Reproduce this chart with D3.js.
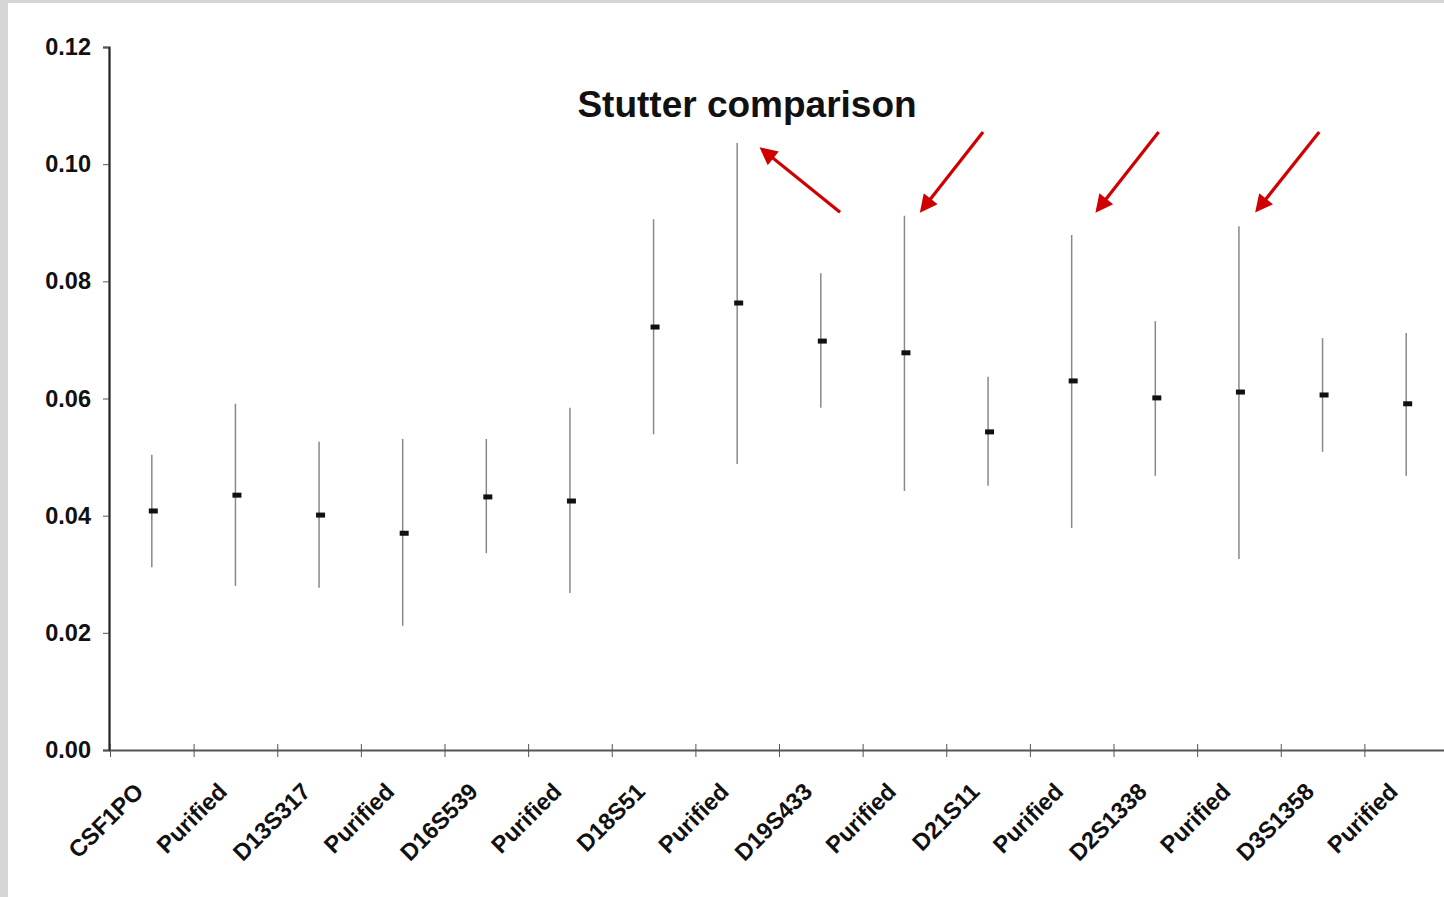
<!DOCTYPE html>
<html><head><meta charset="utf-8">
<script src="https://cdn.jsdelivr.net/npm/d3@7"></script>
<style>
html,body{margin:0;padding:0;background:#d6d6d6;}
svg{display:block;}
text{font-family:"Liberation Sans",Arial,sans-serif;}
</style></head>
<body>
<script>
const categories = ["CSF1PO","Purified","D13S317","Purified","D16S539","Purified","D18S51","Purified","D19S433","Purified","D21S11","Purified","D2S1338","Purified","D3S1358","Purified"];
const means = [0.0408,0.0435,0.0401,0.0370,0.0432,0.0425,0.0722,0.0763,0.0698,0.0678,0.0543,0.0630,0.0601,0.0611,0.0606,0.0591];
const highs = [0.0504,0.0591,0.0526,0.0531,0.0531,0.0584,0.0906,0.1036,0.0814,0.0912,0.0637,0.0879,0.0732,0.0894,0.0703,0.0712];
const lows  = [0.0312,0.0280,0.0277,0.0212,0.0336,0.0268,0.0539,0.0488,0.0584,0.0442,0.0451,0.0379,0.0468,0.0326,0.0509,0.0468];
const yTicks = [0,0.02,0.04,0.06,0.08,0.10,0.12];
const title = "Stutter comparison";
// annotation arrows in data space (category position, value)
const arrows = [
  {x1:8.73, y1:0.0918, x2:7.80, y2:0.1025},
  {x1:10.44, y1:0.1055, x2:9.71, y2:0.0922},
  {x1:12.54, y1:0.1055, x2:11.81, y2:0.0922},
  {x1:14.46, y1:0.1055, x2:13.72, y2:0.0922}
];

const W = 1444, H = 897;
const svg = d3.select("body").append("svg").attr("width", W).attr("height", H);
svg.append("rect").attr("x", 8).attr("y", 3).attr("width", W - 8).attr("height", H - 3).attr("fill", "#fff");

const x = d3.scaleBand().domain(d3.range(categories.length)).range([110, 1448]).padding(0);
const y = d3.scaleLinear().domain([0, 0.12]).range([750, 47]);
const xi = d3.scaleLinear().domain([0, categories.length]).range([110, 1448]);

// Y axis
const yAxis = d3.axisLeft(y).tickValues(yTicks).tickFormat(d3.format(".2f")).tickSize(6).tickPadding(12);
const gy = svg.append("g").attr("transform", "translate(109,0)").call(yAxis);
gy.select(".domain").attr("stroke", "#222").attr("stroke-width", 2.2);
gy.selectAll(".tick line").attr("stroke", "#555").attr("stroke-width", 1);
gy.selectAll(".tick text").attr("font-size", 23.5).attr("font-weight", "bold").attr("fill", "#111")
  .attr("font-family", "'Liberation Sans',Arial,sans-serif");

// X axis
const xAxis = d3.axisBottom(xi).tickValues(d3.range(categories.length + 1)).tickSize(0).tickFormat("");
const gx = svg.append("g").attr("transform", "translate(0,750)").call(xAxis);
gx.select(".domain").attr("stroke", "#555").attr("stroke-width", 2.2);
gx.selectAll(".tick").append("line").attr("y1", -6).attr("y2", 7).attr("stroke", "#555").attr("stroke-width", 1);

// x labels
svg.append("g").selectAll("text").data(categories).join("text")
  .attr("transform", (d, i) => `translate(${x(i) + x.bandwidth() / 2 - 7},${793}) rotate(-45)`)
  .attr("text-anchor", "end")
  .attr("font-size", 23.5).attr("font-weight", "bold").attr("fill", "#111")
  .text(d => d);

// error bars
const g = svg.append("g");
g.selectAll("line.err").data(categories).join("line").attr("class", "err")
  .attr("x1", (d, i) => x(i) + x.bandwidth() / 2)
  .attr("x2", (d, i) => x(i) + x.bandwidth() / 2)
  .attr("y1", (d, i) => y(highs[i]))
  .attr("y2", (d, i) => y(lows[i]))
  .attr("stroke", "#888").attr("stroke-width", 1.5);
g.selectAll("rect.mean").data(categories).join("rect").attr("class", "mean")
  .attr("x", (d, i) => x(i) + x.bandwidth() / 2 - 3)
  .attr("y", (d, i) => y(means[i]) - 2.5)
  .attr("width", 9).attr("height", 5).attr("fill", "#111");

// title
svg.append("text").attr("x", 747).attr("y", 117).attr("text-anchor", "middle")
  .attr("font-size", 37).attr("font-weight", "bold").attr("fill", "#111").text(title);

// arrows
const defs = svg.append("defs");
defs.append("marker").attr("id", "ah").attr("viewBox", "0 0 10 10").attr("refX", 8).attr("refY", 5)
  .attr("markerWidth", 6).attr("markerHeight", 5.5).attr("orient", "auto").attr("markerUnits", "strokeWidth")
  .append("path").attr("d", "M0,0 L10,5 L0,10 z").attr("fill", "#d10000");
svg.append("g").selectAll("line").data(arrows).join("line")
  .attr("x1", d => xi(d.x1)).attr("y1", d => y(d.y1))
  .attr("x2", d => xi(d.x2)).attr("y2", d => y(d.y2))
  .attr("stroke", "#d10000").attr("stroke-width", 3.2).attr("marker-end", "url(#ah)");
</script>
</body></html>
